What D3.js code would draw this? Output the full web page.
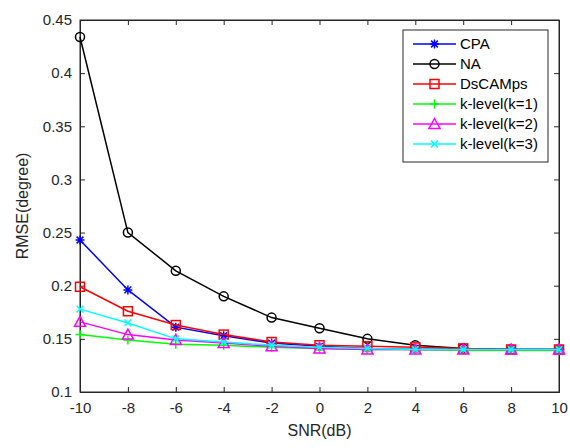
<!DOCTYPE html>
<html>
<head>
<meta charset="utf-8">
<script src="https://cdn.jsdelivr.net/npm/d3@7"></script>
<style>
  body { margin: 0; background: #fff; }
  text { font-family: Arial, "Liberation Sans", sans-serif; }
</style>
</head>
<body>
<div id="chart"></div>
<script>
// data
var snr = [-10, -8, -6, -4, -2, 0, 2, 4, 6, 8, 10];
var cpa     = [0.243, 0.196, 0.161, 0.153, 0.146, 0.143, 0.141, 0.140, 0.140, 0.140, 0.140];
var na      = [0.434, 0.250, 0.214, 0.190, 0.170, 0.160, 0.150, 0.144, 0.141, 0.140, 0.140];
var dscamps = [0.199, 0.176, 0.163, 0.154, 0.147, 0.144, 0.143, 0.142, 0.141, 0.140, 0.140];
var k1      = [0.154, 0.149, 0.145, 0.144, 0.142, 0.141, 0.140, 0.140, 0.139, 0.139, 0.139];
var k2      = [0.166, 0.154, 0.149, 0.146, 0.143, 0.141, 0.140, 0.140, 0.140, 0.140, 0.140];
var k3      = [0.178, 0.165, 0.150, 0.147, 0.144, 0.142, 0.141, 0.140, 0.140, 0.140, 0.140];
var yTicks = [0.1, 0.15, 0.2, 0.25, 0.3, 0.35, 0.4, 0.45];

var series = [
  { name: "CPA", values: cpa, color: "#0000ff", marker: "star" },
  { name: "NA", values: na, color: "#000000", marker: "circle" },
  { name: "DsCAMps", values: dscamps, color: "#ff0000", marker: "square" },
  { name: "k-level(k=1)", values: k1, color: "#00ff00", marker: "plus" },
  { name: "k-level(k=2)", values: k2, color: "#ff00ff", marker: "triangle" },
  { name: "k-level(k=3)", values: k3, color: "#00ffff", marker: "cross" }
];

var margin = { top: 20, right: 11, bottom: 56, left: 80 },
    width = 570 - margin.left - margin.right,
    height = 448 - margin.top - margin.bottom;

var svg = d3.select("#chart")
    .append("svg")
    .attr("width", 570)
    .attr("height", 448)
    .append("g")
    .attr("transform", "translate(" + margin.left + "," + margin.top + ")");

var x = d3.scaleLinear().domain([-10, 10]).range([0, width]);
var y = d3.scaleLinear().domain([0.1, 0.45]).range([height, 0]);

// box
svg.append("rect")
    .attr("width", width).attr("height", height)
    .attr("fill", "none").attr("stroke", "#262626").attr("stroke-width", 1);

// axes, ticks inside (plain hyphen for negatives, like matlab)
var xAxis = svg.append("g")
    .attr("transform", "translate(0," + height + ")")
    .call(d3.axisBottom(x).tickValues(snr).tickSize(-5).tickPadding(10).tickFormat(function (d) { return String(d); }));
var xTop = svg.append("g")
    .call(d3.axisTop(x).tickValues(snr).tickSize(-5).tickFormat(""));
var yAxis = svg.append("g")
    .call(d3.axisLeft(y).tickValues(yTicks).tickSize(-5).tickPadding(8).tickFormat(function (d) { return String(+d.toFixed(2)); }));
var yRight = svg.append("g")
    .attr("transform", "translate(" + width + ",0)")
    .call(d3.axisRight(y).tickValues(yTicks).tickSize(-5).tickFormat(""));

[xAxis, xTop, yAxis, yRight].forEach(function (a) {
    a.select(".domain").attr("stroke", "#262626");
    a.selectAll(".tick line").attr("stroke", "#262626");
    a.selectAll(".tick text").attr("fill", "#262626").style("font-size", "15px");
});

// axis labels
svg.append("text")
    .attr("x", width / 2).attr("y", height + 44)
    .attr("text-anchor", "middle")
    .style("font-size", "16px").attr("fill", "#262626")
    .text("SNR(dB)");
svg.append("text")
    .attr("transform", "translate(-52," + (height / 2) + ") rotate(-90)")
    .attr("text-anchor", "middle")
    .style("font-size", "16px").attr("fill", "#262626")
    .text("RMSE(degree)");

// marker drawing
function drawMarker(g, type, color) {
    var s = 4.5;
    if (type === "circle") {
        g.append("circle").attr("r", s).attr("fill", "none").attr("stroke", color).attr("stroke-width", 1.5);
    } else if (type === "square") {
        g.append("rect").attr("x", -s).attr("y", -s).attr("width", 2 * s).attr("height", 2 * s)
            .attr("fill", "none").attr("stroke", color).attr("stroke-width", 1.5);
    } else if (type === "triangle") {
        g.append("path").attr("d", "M0," + (-s - 1) + "L" + (s + 1) + "," + (s) + "L" + (-s - 1) + "," + (s) + "Z")
            .attr("fill", "none").attr("stroke", color).attr("stroke-width", 1.5);
    } else if (type === "plus") {
        g.append("path").attr("d", "M-" + s + ",0H" + s + "M0,-" + s + "V" + s)
            .attr("stroke", color).attr("stroke-width", 1.5);
    } else if (type === "cross") {
        var c = s * 0.75;
        g.append("path").attr("d", "M-" + c + ",-" + c + "L" + c + "," + c + "M-" + c + "," + c + "L" + c + ",-" + c)
            .attr("stroke", color).attr("stroke-width", 1.5);
    } else if (type === "star") {
        var c2 = s * 0.75;
        g.append("path").attr("d", "M-" + s + ",0H" + s + "M0,-" + s + "V" + s +
            "M-" + c2 + ",-" + c2 + "L" + c2 + "," + c2 + "M-" + c2 + "," + c2 + "L" + c2 + ",-" + c2)
            .attr("stroke", color).attr("stroke-width", 1.5);
    }
}

var line = d3.line()
    .x(function (d, i) { return x(snr[i]); })
    .y(function (d) { return y(d); });

series.forEach(function (s) {
    svg.append("path")
        .attr("d", line(s.values))
        .attr("fill", "none")
        .attr("stroke", s.color)
        .attr("stroke-width", 1.5);
    s.values.forEach(function (v, i) {
        var g = svg.append("g").attr("transform", "translate(" + x(snr[i]) + "," + y(v) + ")");
        drawMarker(g, s.marker, s.color);
    });
});

// legend
var lg = svg.append("g").attr("transform", "translate(" + (403 - margin.left) + "," + (30 - margin.top) + ")");
lg.append("rect").attr("width", 145).attr("height", 132)
    .attr("fill", "#fff").attr("stroke", "#262626").attr("stroke-width", 1);
series.forEach(function (s, i) {
    var row = lg.append("g").attr("transform", "translate(0," + (14 + i * 20) + ")");
    row.append("line").attr("x1", 10).attr("x2", 53).attr("stroke", s.color).attr("stroke-width", 1.5);
    drawMarker(row.append("g").attr("transform", "translate(31.5,0)"), s.marker, s.color);
    row.append("text").attr("x", 57).attr("dy", "0.35em")
        .style("font-size", "15px").attr("fill", "#000")
        .text(s.name);
});
</script>
</body>
</html>
